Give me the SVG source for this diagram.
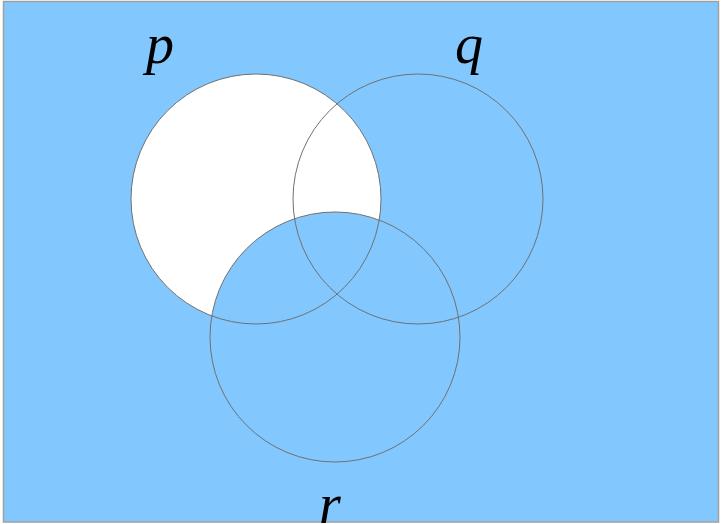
<svg xmlns="http://www.w3.org/2000/svg" width="721" height="524" viewBox="0 0 721 524">
<style>
.c{fill:none;stroke:#707070;stroke-width:1}
.t{font-family:"Liberation Serif",serif;font-style:italic;font-size:56px;fill:#000}
</style>
<defs>
<clipPath id="notR"><path d="M0 0H721V524H0Z M460 337A125 125 0 1 0 210 337A125 125 0 1 0 460 337Z" clip-rule="evenodd"/></clipPath>
</defs>
<rect id="universe" x="3.5" y="1.5" width="715" height="520.5" fill="#82C8FE" stroke="#a0a0a0" stroke-width="1.5"/>
<g id="shade"><circle cx="256" cy="199" r="125" fill="#ffffff" clip-path="url(#notR)"/></g>
<g id="p"><circle class="c" cx="256" cy="199" r="125"/><text class="t" x="146" y="63">p</text></g>
<g id="q"><circle class="c" cx="418" cy="199" r="125"/><text class="t" x="455" y="63">q</text></g>
<g id="r"><circle class="c" cx="335" cy="337" r="125"/><text class="t" x="319" y="523">r</text></g>
</svg>
